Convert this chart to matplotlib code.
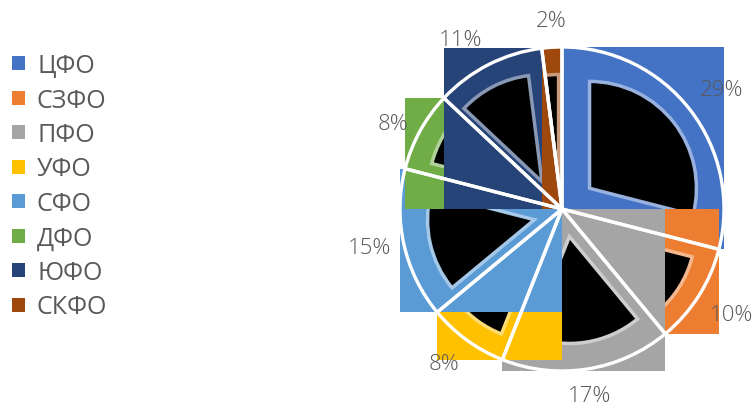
import numpy as np
import matplotlib.pyplot as plt
from matplotlib.patches import Rectangle, Wedge, Patch
from matplotlib.colors import to_rgb

# данные
regions = ['ЦФО', 'СЗФО', 'ПФО', 'УФО', 'СФО', 'ДФО', 'ЮФО', 'СКФО']
shares = [29, 10, 17, 8, 15, 8, 11, 2]
colors = ['#4472C4', '#ED7D31', '#A5A5A5', '#FFC000',
          '#5B9BD5', '#70AD47', '#264478', '#9E480E']

plt.rcParams['font.family'] = ['Open Sans', 'DejaVu Sans']
text_color = '#595959'

fig = plt.figure(figsize=(7.54, 4.10), dpi=100)
ax = fig.add_axes([0, 0, 1, 1])

cx, cy, r = 562, 200, 162
wedges, texts = ax.pie(
    shares, startangle=90, counterclock=False, center=(cx, cy), radius=r,
    wedgeprops=dict(facecolor='none', edgecolor='white', linewidth=2.4, zorder=10))

ax.set_xlim(0, 754)
ax.set_ylim(0, 410)
ax.set_aspect('equal')
ax.axis('off')


def wedge_bbox(w):
    # рамка сектора (включая центр)
    t1, t2 = w.theta1, w.theta2
    angs = [t1, t2] + [a for a in range(-360, 721, 90) if t1 < a < t2]
    xs = [cx] + [cx + r * np.cos(np.radians(a)) for a in angs]
    ys = [cy] + [cy + r * np.sin(np.radians(a)) for a in angs]
    return min(xs), min(ys), max(xs), max(ys)


s = 0.66
for i, (w, c) in enumerate(zip(wedges, colors)):
    x0, y0, x1, y1 = wedge_bbox(w)
    z = 2 + i * 0.1
    ax.add_patch(Rectangle((x0, y0), x1 - x0, y1 - y0, facecolor=c, edgecolor='none', zorder=z))
    bx, by = (x0 + x1) / 2, (y0 + y1) / 2
    light = tuple(0.55 * np.array(to_rgb(c)) + 0.45)
    ax.add_patch(Wedge((bx + s * (cx - bx), by + s * (cy - by)), s * r, w.theta1, w.theta2,
                       facecolor='black', edgecolor=light, linewidth=2.5, zorder=z + 0.05))

    # подпись процента снаружи сектора
    mid = np.radians((w.theta1 + w.theta2) / 2)
    ca, sa = np.cos(mid), np.sin(mid)
    ha = 'left' if ca > 0.3 else ('right' if ca < -0.3 else 'center')
    va = 'bottom' if sa > 0.5 else ('top' if sa < -0.5 else 'center')
    pct = 100 * shares[i] / sum(shares)
    ax.text(cx + 1.08 * r * ca, cy + 1.1 * r * sa, f'{pct:.0f}%', ha=ha, va=va,
            color=text_color, fontsize=16, fontweight='light', zorder=20)

handles = [Patch(facecolor=c) for c in colors]
fig.legend(handles, regions, loc='upper left', bbox_to_anchor=(12 / 754, 1 - 54 / 410),
           frameon=False, fontsize=18, labelcolor=text_color,
           handlelength=0.5, handleheight=0.5, handletextpad=0.5,
           labelspacing=0.38, borderpad=0, borderaxespad=0)

fig.savefig('out.png', dpi=100)
